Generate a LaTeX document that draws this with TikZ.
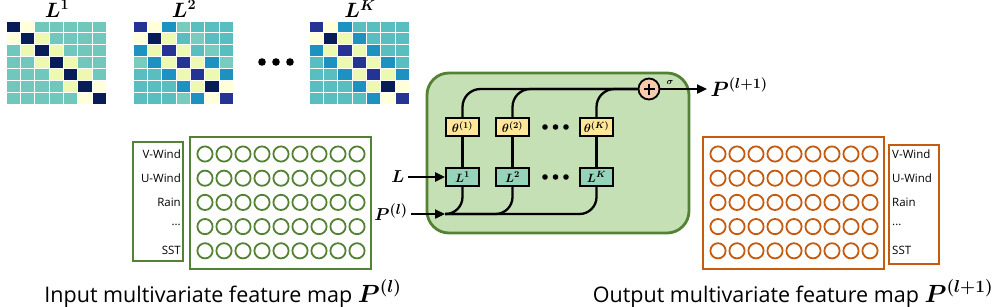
\documentclass[tikz,border=0pt]{standalone}
\usepackage{amsmath, amssymb, bm}
\usepackage{fontspec}
\usepackage{tikz}
\usetikzlibrary{arrows.meta,calc}
\newfontfamily\capfont{Open Sans}
\definecolor{ingreen}{RGB}{84,130,53}
\definecolor{blockgreen}{RGB}{197,224,180}
\definecolor{outorange}{RGB}{197,90,17}
\definecolor{thyellow}{RGB}{255,230,153}
\definecolor{lmint}{RGB}{150,212,186}
\definecolor{sumpeach}{RGB}{248,203,173}
% heatmap palette
\definecolor{hma}{RGB}{8,29,88}
\definecolor{hmb}{RGB}{37,52,148}
\definecolor{hmc}{RGB}{29,145,192}
\definecolor{hmd}{RGB}{88,190,192}
\definecolor{hme}{RGB}{112,200,188}
\definecolor{hmf}{RGB}{237,248,177}
\definecolor{hmg}{RGB}{255,255,217}
\definecolor{hmh}{RGB}{120,204,190}
\newcommand{\heatmap}[2]{%
  \foreach \row [count=\i] in {#2}{
    \foreach \c [count=\j] in \row{
      \fill[fill=hm\c, draw=white, line width=0.6pt]
        (#1+\j*14.3-14.3, 9+\i*11.86) rectangle ++(14.3,11.86);
    }
  }
}

\begin{document}
\begin{tikzpicture}[x=1pt, y=-1pt,
    line/.style={black, line width=2.3pt},
    arr/.style={line, -{Triangle[length=10pt,width=9pt]}},
    title/.style={font=\fontsize{21}{24}\selectfont},
    side/.style={font=\fontsize{19}{22}\selectfont},
    thbox/.style={draw, line width=1.8pt, fill=thyellow, minimum width=33pt,
      minimum height=18pt, inner sep=0pt, font=\fontsize{13}{14}\selectfont},
    lbox/.style={thbox, fill=lmint},
    varname/.style={font=\capfont\fontsize{11.5}{13}\selectfont, inner sep=0pt},
    caption/.style={font=\capfont\fontsize{21.5}{24}\selectfont, anchor=base}]
  \useasboundingbox (0,0) rectangle (1004,306);
  % Heatmaps
  \heatmap{6}{{a,g,e,e,e,e,e},{g,a,f,e,e,e,e},{e,f,a,f,e,e,e},{e,e,f,a,f,e,e},
    {e,e,e,f,a,f,e},{e,e,e,e,f,a,g},{e,e,e,e,e,g,a}}
  \heatmap{133}{{b,g,c,h,d,d,d},{g,a,f,d,h,d,d},{c,f,b,f,d,h,d},{h,c,f,b,f,c,h},
    {d,d,c,f,b,f,c},{d,d,d,c,f,a,g},{d,d,d,h,c,g,b}}
  \heatmap{309}{{b,g,c,d,d,d,d},{g,a,f,c,d,d,d},{c,f,b,f,c,d,d},{d,c,f,b,f,c,d},
    {d,d,c,f,b,f,c},{d,d,d,c,f,a,g},{d,d,d,d,c,g,b}}
  \node[title] (tl1) at (57,9) {$\bm{L^{1}}$};
  \node[title] (tl2) at (184,9) {$\bm{L^{2}}$};
  \node[title] (tlk) at (360,9) {$\bm{L^{K}}$};
  \foreach \x in {262,276,290} \fill (\x,62) circle (3.8);
  % Input feature map
  \draw[ingreen, line width=2pt] (133,142) rectangle (183,261);
  \draw[ingreen, line width=2pt] (190,137) rectangle (371,269);
  \foreach \r in {0,...,4}
    \foreach \c in {0,...,8}
      \draw[ingreen, line width=1.8pt] (205+\c*19, 154+\r*24.2) circle (7.6);
  \node[varname, anchor=east] (iv) at (181,154) {V-Wind};
  \node[varname, anchor=east] (iu) at (181,178.2) {U-Wind};
  \node[varname, anchor=east] (ir) at (181,202.4) {Rain};
  \node[varname, anchor=east] (id) at (181,224.6) {...};
  \node[varname, anchor=east] (is) at (181,250.8) {SST};
  \node[caption] (incap) at (223,302) {Input multivariate feature map \fontsize{25}{27}\selectfont$\bm{P^{(l)}}$};
  % Output feature map
  \draw[outorange, line width=2pt] (703,137) rectangle (884,269);
  \draw[outorange, line width=2pt] (889,145) rectangle (939,264);
  \foreach \r in {0,...,4}
    \foreach \c in {0,...,8}
      \draw[outorange, line width=1.8pt] (718+\c*19, 154+\r*24.2) circle (7.6);
  \node[varname, anchor=west] (ov) at (892,154) {V-Wind};
  \node[varname, anchor=west] (ou) at (892,178.2) {U-Wind};
  \node[varname, anchor=west] (or) at (892,202.4) {Rain};
  \node[varname, anchor=west] (od) at (892,224.6) {...};
  \node[varname, anchor=west] (os) at (892,250.8) {SST};
  \node[caption] (outcap) at (793,302) {Output multivariate feature map \fontsize{25}{27}\selectfont$\bm{P^{(l+1)}}$};
  % Graph convolution block
  \draw[ingreen, line width=2.8pt, fill=blockgreen, rounded corners=22pt]
    (427,73) rectangle (689,233);
  \node[thbox] (th1) at (462.5,127) {$\bm{\theta^{(1)}}$};
  \node[thbox] (th2) at (512.5,127) {$\bm{\theta^{(2)}}$};
  \node[thbox] (thk) at (596.5,127) {$\bm{\theta^{(K)}}$};
  \node[lbox] (l1) at (462.5,177) {$\bm{L^{1}}$};
  \node[lbox] (l2) at (512.5,177) {$\bm{L^{2}}$};
  \node[lbox] (lk) at (596.5,177) {$\bm{L^{K}}$};
  \foreach \x in {545,555.5,566} {
    \fill (\x,127) circle (2.8);
    \fill (\x,177) circle (2.8);
  }
  \node[draw, circle, line width=1.8pt, fill=sumpeach, minimum size=21pt, inner sep=0pt,
    path picture={\draw[line width=2.4pt] ($(path picture bounding box.center)+(-5.5,0)$) -- ++(11,0)
      ($(path picture bounding box.center)+(0,-5.5)$) -- ++(0,11);}] (sum) at (649,89) {};
  \node[font=\fontsize{9}{10}\selectfont] (sig) at (670,82) {$\bm{\sigma}$};
  \node[side, anchor=west, font=\fontsize{20}{22}\selectfont] (pout) at (707,87) {$\bm{P^{(l+1)}}$};
  \node[side] (lin) at (398,177) {$\bm{L}$};
  \node[side] (pin) at (391,212) {$\bm{P^{(l)}}$};
  \coordinate (join) at (445,214);
  % Connectors
  \foreach \k in {1,2,k} {
    \draw[line] (th\k) -- (l\k);
    \draw[line, rounded corners=18pt] (th\k.north) |- (sum.west);
  }
  \draw[line, rounded corners=17pt] (l1.south) |- (join);
  \draw[line, rounded corners=17pt] (l2.south) |- (join);
  \draw[line, rounded corners=17pt] (join) -| (lk.south);
  \draw[arr] (lin.east |- l1.west) -- (l1.west);
  \draw[arr] (pin.east |- join) -- (join);
  \draw[arr] (sum.east) -- (sum.east -| pout.west);
\end{tikzpicture}
\end{document}
